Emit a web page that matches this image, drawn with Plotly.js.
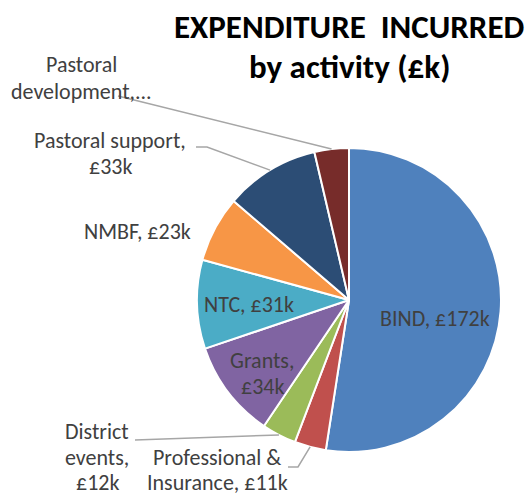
<!DOCTYPE html>
<html>
<head>
<meta charset="utf-8">
<script src="https://cdn.plot.ly/plotly-3.0.1.min.js"></script>
<style>html,body{margin:0;padding:0;background:#fff;}#chart{width:529px;height:497px;}</style>
</head>
<body>
<div id="chart"></div>
<script>
// ---- data ----
const categories = ['BIND', 'Professional & Insurance', 'District events', 'Grants', 'NTC', 'NMBF', 'Pastoral support', 'Pastoral development'];
const values = [172, 11, 12, 34, 31, 23, 33, 12];
const labelTexts = ['BIND, £172k', 'Professional &<br>Insurance, £11k', 'District<br>events,<br>£12k', 'Grants,<br>£34k', 'NTC, £31k', 'NMBF, £23k', 'Pastoral support,<br>£33k', 'Pastoral<br>development,...'];
const colors = ['#4F81BD', '#C0504D', '#9BBB59', '#8064A2', '#4BACC6', '#F79646', '#2C4D75', '#772C2A'];

// ---- layout helpers ----
const W = 529, H = 497;
const cx = 349, cy = 300, R = 152;
const px = x => x / W, py = y => 1 - y / H;
const FONT = 'Carlito, "Open Sans", sans-serif';

// mid-angle of each slice (clockwise from 12 o'clock)
const total = values.reduce((a, b) => a + b, 0);
let cum = 0;
const mids = values.map(v => { const m = (cum + v / 2) / total * 2 * Math.PI; cum += v; return m; });
const edgePt = (i, k) => [cx + R * k * Math.sin(mids[i]), cy - R * k * Math.cos(mids[i])];

// label placement: centre x, centre y of first line, line step; leader elbows
const place = {
  0: {x: 435, y: 318, s: 26.5},
  1: {x: 217, y: 457, s: 25.5, leader: [[288, 467], [298, 467]]},
  2: {x: 97, y: 431.5, s: 25.5, leader: [[135, 440]]},
  3: {x: 262, y: 360, s: 26.5},
  4: {x: 249, y: 304, s: 26.5},
  5: {x: 137, y: 232, s: 26.5},
  6: {x: 110, y: 140, s: 26.5, leader: [[196, 147], [207, 147]]},
  7: {x: 81, y: 65, s: 26.5, leader: [[118, 96]]}
};

const annotations = [];
const shapes = [];
categories.forEach((c, i) => {
  const p = place[i];
  labelTexts[i].split('<br>').forEach((ln, j) => {
    annotations.push({
      xref: 'paper', yref: 'paper', x: px(p.x), y: py(p.y + j * p.s),
      xanchor: 'center', yanchor: 'middle', showarrow: false, align: 'center',
      text: ln, font: {family: FONT, size: 22, color: '#404040'}
    });
  });
  if (p.leader) {
    const pts = p.leader.concat([edgePt(i, 1.0)]);
    let d = 'M ' + px(pts[0][0]) + ',' + py(pts[0][1]);
    for (let k = 1; k < pts.length; k++) d += ' L ' + px(pts[k][0]) + ',' + py(pts[k][1]);
    shapes.push({type: 'path', xref: 'paper', yref: 'paper', path: d, line: {color: '#A6A6A6', width: 1.5}});
  }
});

annotations.push({xref: 'paper', yref: 'paper', x: px(349), y: py(27), xanchor: 'center', yanchor: 'middle', showarrow: false,
  text: '<b>EXPENDITURE  INCURRED</b>', font: {family: FONT, size: 33, color: '#000'}});
annotations.push({xref: 'paper', yref: 'paper', x: px(349), y: py(67), xanchor: 'center', yanchor: 'middle', showarrow: false,
  text: '<b>by activity (£k)</b>', font: {family: FONT, size: 33, color: '#000'}});

const trace = {
  type: 'pie',
  labels: categories,
  values: values,
  sort: false,
  direction: 'clockwise',
  rotation: 0,
  marker: {colors: colors, line: {color: '#ffffff', width: 2}},
  textinfo: 'none',
  hoverinfo: 'label+value',
  domain: {x: [px(cx - R), px(cx + R)], y: [py(cy + R), py(cy - R)]}
};

const layout = {
  width: W, height: H,
  margin: {l: 0, r: 0, t: 0, b: 0},
  paper_bgcolor: '#ffffff',
  showlegend: false,
  annotations: annotations,
  shapes: shapes
};

Plotly.newPlot('chart', [trace], layout, {displayModeBar: false, staticPlot: true});
</script>
</body>
</html>
